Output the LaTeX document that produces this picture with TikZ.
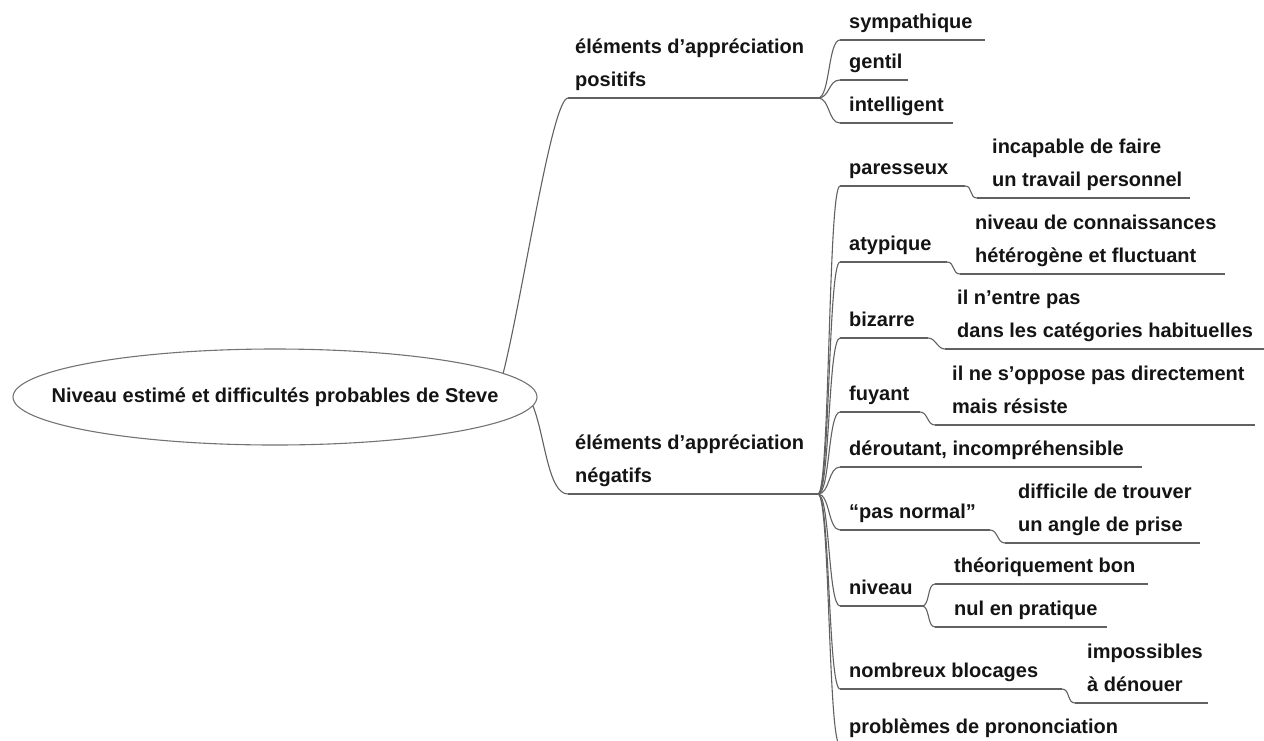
\documentclass[tikz,border=0pt]{standalone}
\usepackage{fontspec}
\setmainfont{Liberation Sans}
\usetikzlibrary{shapes.geometric,positioning}

\begin{document}
\begin{tikzpicture}[x=1pt,y=-1pt,
  txt/.style={anchor=south west,inner xsep=9pt,inner ysep=6pt,text depth=5pt,align=left,
    font=\fontsize{20}{33}\selectfont\bfseries,text=black!92},
  gtxt/.style={txt,inner xsep=15pt},
  ul/.style={draw=black!62,line width=1.1pt},
  br/.style={draw=black!62,line width=1.1pt}]
\useasboundingbox (0,0) rectangle (1264,740);

\node (root) [ellipse,draw=black!55,line width=1.1pt,minimum width=524pt,minimum height=96pt,
  inner xsep=-40pt,inner ysep=20pt,
  font=\fontsize{20}{24}\selectfont\bfseries,text=black!92] at (275,397)
  {Niveau estimé et difficultés probables de Steve};

\node (pos) [txt,inner xsep=7pt] at (568,98) {éléments d’appréciation\\positifs};
\node (neg) [txt,inner xsep=7pt] at (568,494) {éléments d’appréciation\\négatifs};

\node (sym) [txt] at (840,40) {sympathique};
\node (gen) [txt] at (840,80) {gentil};
\node (int) [txt] at (840,123) {intelligent};

\node (par) [txt] at (840,186) {paresseux};
\node (parx) [gtxt] at (977,198) {incapable de faire\\un travail personnel};
\node (aty) [txt] at (840,262) {atypique};
\node (atyx) [gtxt] at (960,274) {niveau de connaissances\\hétérogène et fluctuant};
\node (biz) [txt] at (840,338) {bizarre};
\node (bizx) [gtxt,inner xsep=12pt] at (945,349) {il n’entre pas\\dans les catégories habituelles};
\node (fuy) [txt] at (840,412) {fuyant};
\node (fuyx) [gtxt,inner xsep=17pt] at (935,425) {il ne s’oppose pas directement\\mais résiste};
\node (der) [txt] at (840,467) {déroutant, incompréhensible};
\node (pas) [txt] at (840,530) {“pas normal”};
\node (pasx) [gtxt,inner xsep=13pt] at (1005,543) {difficile de trouver\\un angle de prise};
\node (niv) [txt] at (840,606) {niveau};
\node (nivA) [gtxt,inner xsep=19pt] at (935,584) {théoriquement bon};
\node (nivB) [gtxt,inner xsep=19pt] at (935,627) {nul en pratique};
\node (nom) [txt] at (840,689) {nombreux blocages};
\node (nomx) [gtxt,inner xsep=12pt] at (1075,703) {impossibles\\à dénouer};
\node (pro) [txt] at (840,745) {problèmes de prononciation};

\foreach \n/\w in {pos/250,neg/250,sym/145,gen/68,int/113,par/125,parx/213,aty/107,atyx/265,
  biz/88,bizx/320,fuy/80,fuyx/320,der/302,pas/150,pasx/195,niv/82,nivA/213,nivB/172,
  nom/222,nomx/133,pro/290}
  \draw[ul] (\n.south west) -- +(\w,0) coordinate (\n-e);

\draw[br] (root.6) .. controls +(20,-80) and +(-16,0) .. (pos.south west);
\draw[br] (root.-2) .. controls +(12,30) and +(-20,0) .. (neg.south west);

\foreach \c in {sym,gen,int}
  \draw[br] (pos-e) .. controls +(12,0) and +(-12,0) .. (\c.south west);
\foreach \c in {par,aty,biz,fuy,der,pas,niv,nom,pro}
  \draw[br] (neg-e) .. controls +(12,0) and +(-12,0) .. (\c.south west);
\foreach \a/\b in {par/parx,aty/atyx,biz/bizx,fuy/fuyx,pas/pasx,niv/nivA,niv/nivB,nom/nomx}
  \draw[br] (\a-e) .. controls +(8,0) and +(-8,0) .. (\b.south west);

\end{tikzpicture}
\end{document}
